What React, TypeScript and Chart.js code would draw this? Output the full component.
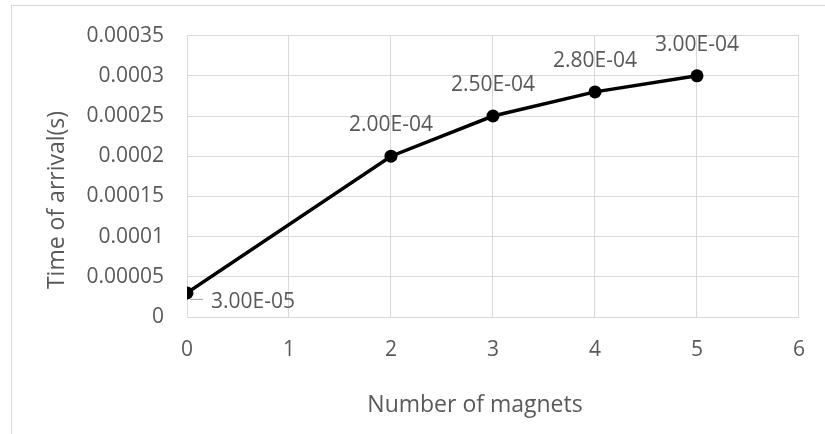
import React, { useEffect, useRef } from "react";
import { Chart, registerables } from "chart.js";

Chart.register(...registerables);

const magnets = [0, 2, 3, 4, 5];
const arrivalTimes = [0.00003, 0.0002, 0.00025, 0.00028, 0.0003];
const xTitle = "Number of magnets";
const yTitle = "Time of arrival(s)";

const TEXT = "#595959";
const GRID = "#d9d9d9";
const FONT = "'Open Sans', sans-serif";

function fmtE(v: number): string {
  const [m, e] = v.toExponential(2).split("e");
  const n = parseInt(e, 10);
  const sign = n < 0 ? "-" : "+";
  const abs = Math.abs(n).toString().padStart(2, "0");
  return `${m}E${sign}${abs}`;
}

const decorPlugin = {
  id: "decor",
  beforeDraw(chart: any) {
    const ctx = chart.ctx;
    ctx.save();
    ctx.fillStyle = "#ffffff";
    ctx.fillRect(0, 0, chart.width, chart.height);
    ctx.strokeStyle = GRID;
    ctx.lineWidth = 1;
    ctx.strokeRect(11.5, 5.5, 2000, 2000);
    ctx.restore();
  },
  afterDraw(chart: any) {
    const ctx = chart.ctx;
    const meta = chart.getDatasetMeta(0);
    const ds = chart.data.datasets[0].data as any[];
    ctx.save();
    ctx.fillStyle = TEXT;
    ctx.font = `21px ${FONT}`;
    meta.data.forEach((pt: any, i: number) => {
      const label = fmtE(ds[i].y);
      if (i === 0) {
        ctx.strokeStyle = "#a6a6a6";
        ctx.lineWidth = 1;
        ctx.beginPath();
        ctx.moveTo(pt.x + 3, pt.y + 6.5);
        ctx.lineTo(pt.x + 16, pt.y + 6.5);
        ctx.stroke();
        ctx.textAlign = "left";
        ctx.textBaseline = "middle";
        ctx.fillText(label, pt.x + 24, pt.y + 9);
      } else {
        ctx.textAlign = "center";
        ctx.textBaseline = "middle";
        ctx.fillText(label, pt.x, pt.y - 31);
      }
    });
    // axis titles
    ctx.font = `23px ${FONT}`;
    ctx.textAlign = "center";
    ctx.textBaseline = "middle";
    ctx.fillText(xTitle, 475, 405);
    ctx.translate(57, 200);
    ctx.rotate(-Math.PI / 2);
    ctx.fillText(yTitle, 0, 0);
    ctx.restore();
  },
};

export default function App() {
  const ref = useRef<HTMLCanvasElement | null>(null);
  useEffect(() => {
    if (!ref.current) return;
    const chart = new Chart(ref.current, {
      type: "line",
      data: {
        datasets: [
          {
            data: magnets.map((x, i) => ({ x, y: arrivalTimes[i] })),
            borderColor: "#000000",
            backgroundColor: "#000000",
            borderWidth: 3.5,
            pointRadius: 6.5,
            pointBorderWidth: 0,
            pointBackgroundColor: "#000000",
            tension: 0,
          },
        ],
      },
      options: {
        animation: false,
        responsive: false,
        devicePixelRatio: 1,
        layout: { padding: { top: 35, right: 25, left: 0, bottom: 0 } },
        plugins: { legend: { display: false }, tooltip: { enabled: false } },
        scales: {
          x: {
            type: "linear",
            min: 0,
            max: 6,
            ticks: {
              stepSize: 1,
              color: TEXT,
              font: { family: FONT, size: 21 },
              padding: 20,
            },
            grid: { color: GRID, lineWidth: 1, drawTicks: false },
            border: { color: GRID, width: 1 },
            afterFit(scale: any) {
              scale.height = 117;
            },
          },
          y: {
            min: 0,
            max: 0.00035,
            ticks: {
              stepSize: 0.00005,
              color: TEXT,
              font: { family: FONT, size: 21 },
              padding: 23,
              callback: (v: any) => Number(Number(v).toFixed(5)).toString(),
            },
            grid: { color: GRID, lineWidth: 1, drawTicks: false },
            border: { color: GRID, width: 1 },
            afterFit(scale: any) {
              scale.width = 187;
            },
          },
        },
      },
      plugins: [decorPlugin],
    });
    return () => chart.destroy();
  }, []);
  return (
    <canvas
      ref={ref}
      width={825}
      height={434}
      style={{ position: "fixed", left: 0, top: 0, width: 825, height: 434 }}
    />
  );
}
